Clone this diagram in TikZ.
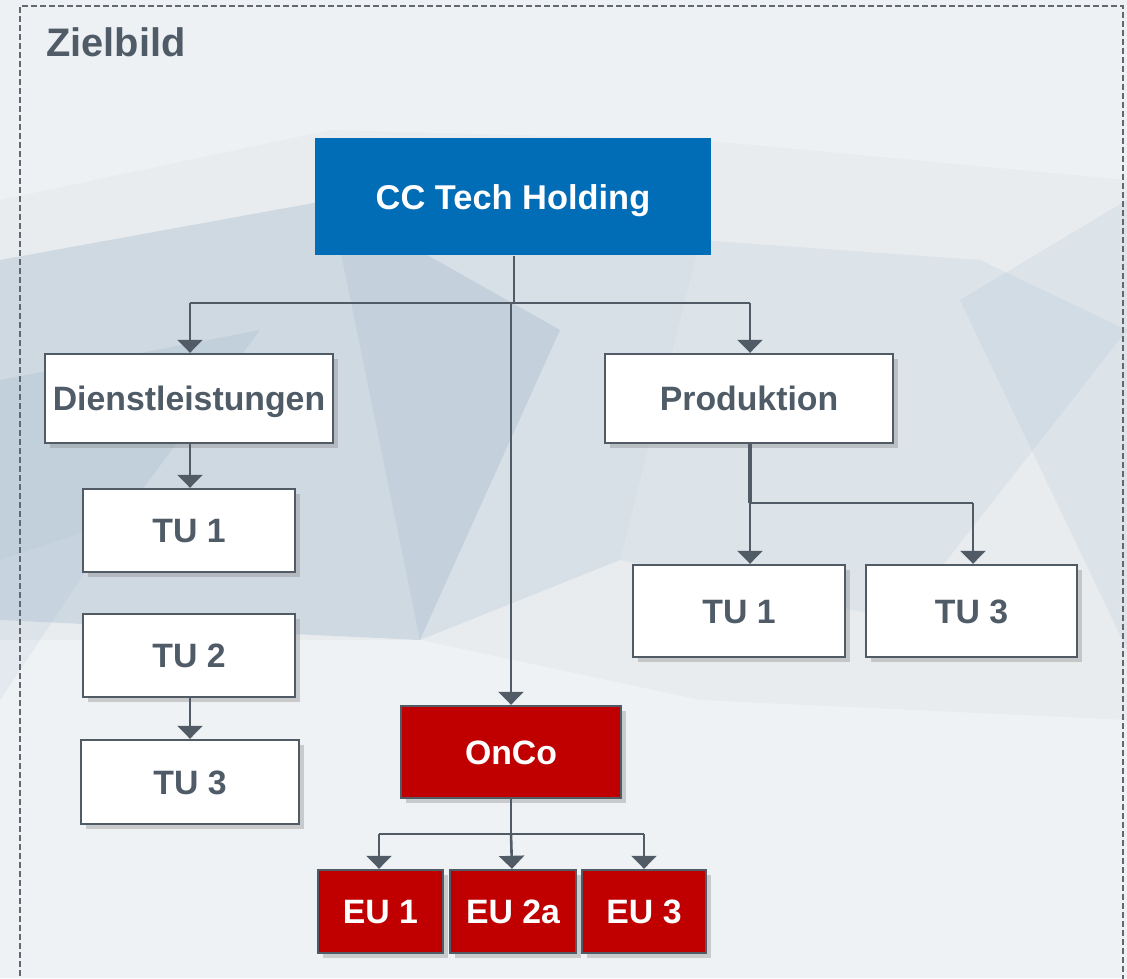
\documentclass[tikz,border=0pt]{standalone}
\usepackage{fontspec}
\setmainfont{Liberation Sans}
\usetikzlibrary{shadows,arrows.meta}
\definecolor{bgbase}{HTML}{E9ECEF}
\definecolor{bgblue}{HTML}{9FB7CC}
\definecolor{bglight}{HTML}{F4F6F8}
\definecolor{holdblue}{HTML}{006DB6}
\definecolor{oncored}{HTML}{C00000}
\definecolor{linegray}{HTML}{505B66}
\definecolor{textgray}{HTML}{4F5B66}
\definecolor{framegray}{HTML}{62686D}
\tikzset{
  box/.style={draw=linegray, line width=1.2pt, fill=white, text=textgray,
    font=\bfseries\fontsize{16.9pt}{18pt}\selectfont, inner sep=0pt,
    text height=12.1pt, text depth=0pt,
    drop shadow={shadow xshift=2.5pt, shadow yshift=-2.5pt, opacity=0.35}},
  redbox/.style={box, fill=oncored, text=white},
  bluebox/.style={draw=none, fill=holdblue, text=white,
    font=\bfseries\fontsize{17.2pt}{19pt}\selectfont, inner sep=0pt,
    text height=12.3pt, text depth=0pt},
  conn/.style={draw=linegray, line width=1.3pt},
  arr/.style={conn, -{Triangle[width=12.5pt,length=6.5pt]}},
}
\newcommand{\bx}[6]{\node[#1, minimum width=#4*0.5pt, minimum height=#5*0.5pt] (#2) at (#3) {#6};}
\begin{document}
\begin{tikzpicture}[x=0.5pt,y=-0.5pt]
\useasboundingbox (0,0) rectangle (1127,978);
% background
\fill[bgbase] (0,0) rectangle (1127,978);
\fill[bgblue, opacity=0.35] (0,260) -- (330,200) -- (560,330) -- (420,640) -- (0,620) -- cycle;
\fill[bgblue, opacity=0.25] (0,380) -- (260,330) -- (120,520) -- (0,560) -- cycle;
\fill[bgblue, opacity=0.22] (330,200) -- (700,240) -- (620,560) -- (420,640) -- cycle;
\fill[bgblue, opacity=0.17] (700,240) -- (980,260) -- (1127,330) -- (900,620) -- (620,560) -- cycle;
\fill[bglight, opacity=0.6] (0,640) -- (420,640) -- (700,700) -- (1127,720) -- (1127,978) -- (0,978) -- cycle;
\fill[bglight, opacity=0.5] (0,0) -- (1127,0) -- (1127,180) -- (700,140) -- (330,130) -- (0,200) -- cycle;
\fill[bgblue, opacity=0.15] (960,300) -- (1127,200) -- (1127,650) -- cycle;
\fill[bgblue, opacity=0.15] (0,560) -- (120,520) -- (0,700) -- cycle;
% frame
\draw[framegray, line width=0.8pt, dash pattern=on 3pt off 1.5pt] (20,985) -- (20,6) -- (1123,6) -- (1123,985);
% title
\node[anchor=west, text=textgray, font=\bfseries\fontsize{19.9pt}{22pt}\selectfont, inner sep=0pt] (title) at (46,42) {Zielbild};
% nodes
\bx{bluebox}{hold}{513,197}{396}{117}{CC Tech Holding}
\bx{box}{dienst}{189,398.5}{288}{89}{Dienstleistungen}
\bx{box}{prod}{749,398.5}{288}{89}{Produktion}
\bx{box}{ltu1}{189,530.5}{212}{83}{TU 1}
\bx{box}{ltu2}{189,655.5}{212}{83}{TU 2}
\bx{box}{ltu3}{190,782}{218}{84}{TU 3}
\bx{box}{rtu1}{739,611}{212}{92}{TU 1}
\bx{box}{rtu3}{971.5,611}{211}{92}{TU 3}
\bx{redbox}{onco}{511,752}{220}{92}{OnCo}
\bx{redbox}{eu1}{380.5,911.5}{125}{83}{EU 1}
\bx{redbox}{eu2}{513,911.5}{126}{83}{EU 2a}
\bx{redbox}{eu3}{644,911.5}{124}{83}{EU 3}
% connectors
\coordinate (hj) at (514,303);
\draw[conn] (hold.south -| hj) -- (hj);
\draw[conn] (190,303) -- (750,303);
\draw[arr] (190,303) -- (dienst.north -| 190,0);
\draw[arr] (750,303) -- (prod.north -| 750,0);
\draw[arr] (511,303) -- (onco.north -| 511,0);
\draw[arr] (dienst.south -| 190,0) -- (ltu1.north -| 190,0);
\draw[arr] (ltu2.south -| 190,0) -- (ltu3.north -| 190,0);
\coordinate (pj) at (750,503);
\draw[linegray, line width=2pt] (prod.south -| pj) -- (pj);
\draw[conn] (pj) -- (973,503);
\draw[arr] (pj) -- (rtu1.north -| pj);
\draw[arr] (973,503) -- (rtu3.north -| 973,0);
\coordinate (oj) at (511,834);
\draw[conn] (onco.south -| oj) -- (oj);
\draw[conn] (379,834) -- (644,834);
\draw[arr] (379,834) -- (eu1.north -| 379,0);
\draw[arr] (oj) -- (eu2.north -| 512,0);
\draw[arr] (644,834) -- (eu3.north -| 644,0);
\end{tikzpicture}
\end{document}
